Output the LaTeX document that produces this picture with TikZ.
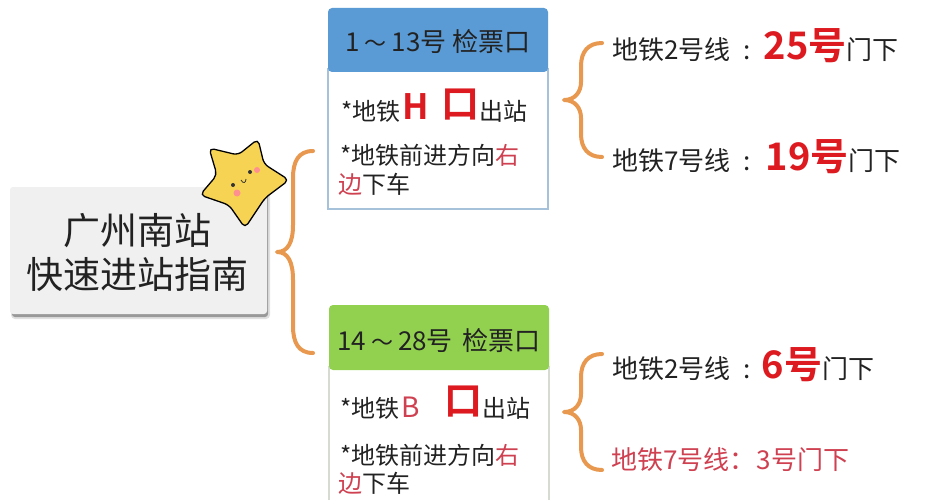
\documentclass[tikz,border=0pt]{standalone}
\usepackage{fontspec}
\setmainfont{Noto Sans CJK SC}
\newfontfamily\cjkb{Noto Sans CJK SC Bold}
\definecolor{brc}{HTML}{E8994F}
\definecolor{hblue}{HTML}{5B9BD5}
\definecolor{hgreen}{HTML}{92D050}
\definecolor{redb}{HTML}{DC1A20}
\definecolor{redt}{HTML}{CF4050}
\definecolor{ink}{HTML}{222222}
\definecolor{stary}{HTML}{F7D354}
\newcommand{\fs}[1]{\fontsize{#1}{#1}\selectfont}
\newcommand{\rb}[2]{{\fs{#1}\cjkb\color{redb}#2}}
\newcommand{\rt}[1]{{\color{redt}#1}}
\newcommand{\kou}{\raisebox{3pt}{\rb{38}{口}}}
\tikzset{
  brace/.style={draw=brc,line width=4pt,line cap=round,line join=round},
  head/.style={font=\fs{26},text=ink,anchor=base west,inner sep=0pt},
  body/.style={font=\fs{24},text=ink,anchor=base west,inner sep=0pt},
  gate/.style={font=\fs{26},text=ink,anchor=base west,inner sep=0pt},
  title/.style={font=\fs{37},text=ink,anchor=base,inner sep=0pt},
}
\begin{document}
\begin{tikzpicture}[x=1pt,y=-1pt]
\useasboundingbox (0,0) rectangle (936,500);
\fill[white] (0,0) rectangle (936,500);
% main box
\fill[black!12,rounded corners=4pt] (11,190) rectangle (270,319);
\fill[black!40,rounded corners=3pt] (12,191) rectangle (268,317);
\fill[black!6,rounded corners=3pt] (10,187) rectangle (267,314);
\node[title] (t1) at (137.5,244) {广州南站};
\node[title] (t2) at (137.5,288) {快速进站指南};
% star
\path[draw=black,line width=1.3pt,fill=stary,rounded corners=5pt,line join=round]
  (258,139) -- (264,164) -- (289,180) -- (265,198) -- (245,228) -- (229,205) -- (200,195) -- (217,175) -- (209,148) -- (238,155) -- cycle;
\fill[red!25!pink] (237,193) circle (3.5pt);
\fill[red!25!pink] (257,170) circle (3pt);
\fill[black!80] (233,185) circle (2pt);
\fill[black!80] (250,172) circle (2pt);
\draw[black!80,line width=.8pt] (241,180) .. controls (243,184) and (246,183) .. (246,179);
% first level brace
\coordinate (b1a) at (313,151);
\coordinate (b1t) at (277,252);
\coordinate (b1b) at (313,353);
\path[brace] (b1a) .. controls (298,151) and (293,162) .. (293,178) -- (293,225)
  .. controls (293,242) and (288,252) .. (b1t) .. controls (288,252) and (293,262) .. (293,280) -- (293,326)
  .. controls (293,342) and (298,353) .. (b1b);
% box 1
\fill[white] (328,8) rectangle (548,209);
\draw[draw=black!15!hblue!50,line width=1.2pt] (328,68) -- (328,209) -- (548,209) -- (548,68);
\fill[hblue,rounded corners=4pt] (328,8) rectangle (548,72);
\node[head] (h1) at (345,52) {1\hspace{5pt}{\fs{22}～}\hspace{5pt}13号\hspace{6pt}检票口};
\node[body] (h1a) at (341,121) {*地铁\hspace{2pt}\raisebox{1pt}{\rb{35}{H}}\hspace{13pt}\kou{}出站};
\node[body] (h1b) at (340,164) {*地铁前进方向\rt{右}};
\node[body] (h1c) at (338,193) {\rt{边}下车};
% box 2
\draw[draw=hgreen!35!black!20,line width=1.2pt] (329,366) -- (329,500);
\draw[draw=hgreen!35!black!20,line width=1.2pt] (549,366) -- (549,500);
\fill[hgreen,rounded corners=4pt] (329,305) rectangle (549,370);
\node[head] (h2) at (337,350) {14\hspace{5pt}{\fs{22}～}\hspace{5pt}28号\hspace{10pt}检票口};
\node[body] (h2a) at (340,417) {*地铁\hspace{2pt}{\fs{28}\color{redt}B}\hspace{25pt}\kou{}出站};
\node[body] (h2b) at (340,464) {*地铁前进方向\rt{右}};
\node[body] (h2c) at (338,492) {\rt{边}下车};
% second level braces
\coordinate (b2a) at (602,43);
\coordinate (b2t) at (564,100);
\coordinate (b2b) at (602,157);
\path[brace] (b2a) .. controls (588,43) and (581,52) .. (581,66) -- (581,82)
  .. controls (581,92) and (575,100) .. (b2t) .. controls (575,100) and (581,108) .. (581,118) -- (581,134)
  .. controls (581,148) and (588,157) .. (b2b);
\coordinate (b3a) at (602,354);
\coordinate (b3t) at (564,412);
\coordinate (b3b) at (602,470);
\path[brace] (b3a) .. controls (588,354) and (581,363) .. (581,377) -- (581,394)
  .. controls (581,404) and (575,412) .. (b3t) .. controls (575,412) and (581,420) .. (581,430) -- (581,447)
  .. controls (581,461) and (588,470) .. (b3b);
% gate labels
\node[gate] (g1) at (612,60) {地铁2号线\hspace{13pt}:\hspace{13pt}\rb{38}{25号}门下};
\node[gate] (g2) at (612,170) {地铁7号线\hspace{13pt}:\hspace{15pt}\rb{38}{19号}门下};
\node[gate] (g3) at (612,378) {地铁2号线\hspace{13pt}:\hspace{11pt}\rb{38}{6号}门下};
\node[gate,text=redt] (g4) at (611,469) {地铁7号线：\hspace{1pt}3号门下};
\end{tikzpicture}
\end{document}
